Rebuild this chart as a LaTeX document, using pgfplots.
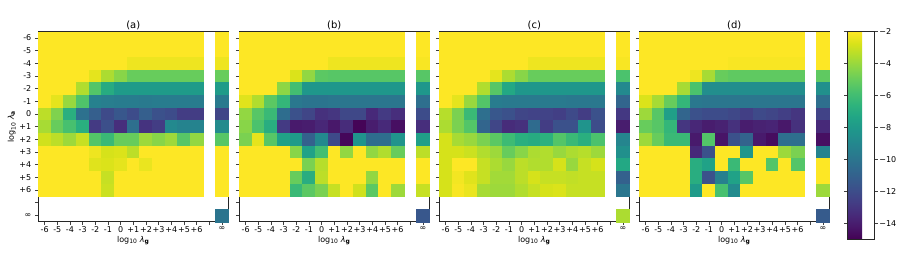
\documentclass[border=0pt]{standalone}
\usepackage{fontspec}
\setmainfont{DejaVu Sans}
\usepackage{pgfplots}
\usepackage{pgfplotstable}
\pgfplotsset{compat=1.18}

% rows: log10 lambda_a = -6 ... +6 ; columns: log10 lambda_g = -6 ... +6, inf
\pgfplotstableread{
c0 c1 c2 c3 c4 c5 c6 c7 c8 c9 c10 c11 c12 cinf
-2 -2 -2 -2 -2 -2 -2 -2 -2 -2 -2 -2 -2 -2
-2 -2 -2 -2 -2 -2 -2 -2 -2 -2 -2 -2 -2 -2
-2 -2 -2 -2 -2 -2 -2 -2.3 -2.3 -2.3 -2.3 -2.3 -2.3 -2.3
-2 -2 -2 -2 -2.5 -3.6 -4.3 -5.0 -5.0 -5.0 -5.0 -5.0 -5.0 -5.0
-2 -2 -2 -3.5 -5.5 -7.0 -7.9 -7.9 -7.9 -7.9 -7.9 -7.9 -7.9 -7.9
-2 -2.5 -4.0 -5.6 -9.3 -9.5 -9.6 -9.6 -9.7 -9.6 -9.6 -9.6 -9.6 -9.7
-3.3 -4.5 -6.8 -10.2 -11.1 -12.1 -11.5 -12.0 -11.1 -11.8 -12.0 -12.7 -12.7 -12.3
-3.7 -5.0 -5.8 -6.8 -12.8 -11.9 -13.3 -10.3 -13.1 -12.7 -8.9 -9.2 -9.2 -8.8
-2.9 -3.3 -3.9 -3.1 -5.5 -6.2 -5.0 -5.0 -3.9 -4.3 -3.9 -5.4 -4.1 -5.4
-2 -2 -2 -2 -2.3 -2.8 -2.7 -3.3 -2 -2 -2 -2 -2 -2
-2 -2 -2 -2 -2.6 -2.7 -2.5 -2 -2.4 -2 -2 -2 -2 -2
-2 -2 -2 -2 -2 -3.1 -2 -2 -2 -2 -2 -2 -2 -2
-2 -2 -2 -2 -2 -3.0 -2 -2 -2 -2 -2 -2 -2 -2
}\tabA

\pgfplotstableread{
c0 c1 c2 c3 c4 c5 c6 c7 c8 c9 c10 c11 c12 cinf
-2 -2 -2 -2 -2 -2 -2 -2 -2 -2 -2 -2 -2 -2
-2 -2 -2 -2 -2 -2 -2 -2 -2 -2 -2 -2 -2 -2
-2 -2 -2 -2 -2 -2 -2 -2.3 -2.3 -2.3 -2.3 -2.3 -2.3 -2.1
-2 -2 -2 -2 -2.7 -4.1 -5.3 -5.4 -5.4 -5.4 -5.4 -5.4 -5.4 -5.4
-2 -2 -2 -4.2 -5.9 -8.1 -8.1 -8.1 -8.1 -8.1 -8.1 -8.1 -8.1 -8.1
-2.6 -3.5 -5.3 -6.4 -9.8 -10.0 -10.0 -9.9 -9.9 -9.9 -9.9 -9.9 -9.9 -10.3
-4.1 -5.4 -6.2 -10.4 -11.8 -12.3 -13.2 -13.0 -12.2 -12.2 -13.5 -12.8 -13.3 -12.0
-4.3 -5.7 -6.9 -12.8 -14.1 -14.0 -13.6 -14.2 -13.4 -14.9 -14.0 -13.5 -14.5 -13.3
-4.6 -2.5 -5.4 -7.6 -7.9 -11.0 -8.9 -12.1 -14.8 -8.3 -10.4 -10.4 -8.3 -7.7
-2 -2 -2 -2 -4.3 -7.5 -5.9 -2 -4.1 -2 -4.1 -3.5 -5.0 -3.3
-2 -2 -2 -2 -2 -4.6 -3.4 -2 -2 -2 -2 -2 -2 -2
-2 -2 -2 -2 -5.0 -6.9 -3.3 -2 -2 -2 -4.1 -2 -2 -2
-2 -2 -2 -2 -6.2 -5.3 -4.6 -3.1 -2 -2.9 -5.3 -2 -3.9 -3.1
}\tabB

\pgfplotstableread{
c0 c1 c2 c3 c4 c5 c6 c7 c8 c9 c10 c11 c12 cinf
-2 -2 -2 -2 -2 -2 -2 -2 -2 -2 -2 -2 -2 -2
-2 -2 -2 -2 -2 -2 -2 -2 -2 -2 -2 -2 -2 -2
-2 -2 -2 -2 -2 -2 -2 -2.3 -2.3 -2.3 -2.3 -2.3 -2.3 -2.1
-2 -2 -2 -2 -2.5 -3.6 -4.3 -5.0 -5.0 -5.0 -5.0 -5.0 -5.0 -5.7
-2 -2 -2 -3.5 -5.4 -7.2 -8.1 -8.1 -8.1 -8.1 -8.1 -8.1 -8.1 -8.9
-2 -2.5 -4.0 -5.5 -9.6 -9.7 -9.7 -9.7 -9.7 -9.7 -9.8 -9.8 -9.8 -10.8
-3.4 -4.6 -6.2 -10.3 -11.5 -11.8 -12.3 -12.4 -12.4 -12.6 -12.1 -12.7 -11.8 -12.9
-3.6 -4.6 -5.5 -10.8 -12.3 -13.4 -13.2 -10.5 -12.7 -11.8 -11.8 -8.3 -12.0 -14.0
-2.8 -3.7 -4.0 -4.6 -5.3 -6.1 -6.8 -7.0 -6.7 -5.5 -6.2 -6.8 -5.7 -9.1
-2.8 -2.8 -3.0 -3.5 -3.9 -5.0 -4.3 -3.6 -3.5 -4.0 -3.6 -3.4 -3.9 -8.5
-2.8 -2.0 -2.0 -3.1 -3.6 -4.0 -3.3 -3.5 -3.5 -2.8 -4.0 -3.1 -2.8 -7.2
-2.8 -2.2 -2.6 -3.1 -3.8 -3.8 -3.3 -2.8 -3.1 -3.1 -3.2 -3.1 -3.1 -11.0
-2.8 -2.1 -2.4 -3.7 -3.9 -3.9 -3.5 -3.1 -2.8 -2.7 -3.1 -3.1 -3.1 -9.9
}\tabC

\pgfplotstableread{
c0 c1 c2 c3 c4 c5 c6 c7 c8 c9 c10 c11 c12 cinf
-2 -2 -2 -2 -2 -2 -2 -2 -2 -2 -2 -2 -2 -2
-2 -2 -2 -2 -2 -2 -2 -2 -2 -2 -2 -2 -2 -2
-2 -2 -2 -2 -2 -2 -2 -2.1 -2.1 -2.1 -2.1 -2.1 -2.1 -2
-2 -2 -2 -2 -2.3 -3.7 -5.0 -5.2 -5.2 -5.2 -5.2 -5.2 -5.2 -5.2
-2 -2 -2 -3.7 -5.7 -8.6 -8.6 -8.6 -8.6 -8.6 -8.6 -8.6 -8.6 -8.5
-2.7 -3.7 -5.0 -6.4 -9.8 -9.9 -9.9 -9.9 -9.9 -9.9 -9.9 -9.9 -9.9 -10.3
-3.9 -5.4 -7.7 -10.8 -11.8 -12.0 -12.0 -12.2 -12.6 -12.1 -12.3 -12.6 -13.0 -12.4
-5.0 -5.4 -6.4 -13.0 -13.6 -14.0 -13.8 -13.2 -14.0 -13.8 -13.7 -14.2 -13.2 -13.5
-3.9 -5.0 -6.2 -6.2 -14.1 -5.5 -14.3 -11.8 -10.9 -14.1 -14.6 -10.3 -10.3 -14.5
-2 -2 -2 -2 -13.5 -11.8 -2 -2 -8.2 -2 -2 -3.9 -4.6 -9.2
-2 -2 -2 -2 -6.9 -7.5 -2 -6.2 -2 -2 -5.5 -2 -5.5 -2
-2 -2 -2 -2 -6.9 -11.8 -9.4 -7.5 -5.4 -2 -2 -2 -2 -2
-2 -2 -2 -2 -7.9 -2 -5.8 -8.8 -2 -2 -2 -2 -2 -3.9
}\tabD

\newcommand\lbl{\fontsize{8}{9.5}\selectfont}

\pgfplotsset{
  hm/.style={
    scale only axis, width=190pt, height=190pt,
    anchor=south west,
    xmin=-0.5, xmax=14.5, ymin=-0.5, ymax=14.5, y dir=reverse,
    xtick={0,...,14}, ytick={0,...,14},
    xticklabels={-6,-5,-4,-3,-2,-1,0,+1,+2,+3,+4,+5,+6,,∞},
    yticklabels=\empty,
    tick align=outside, tick pos=left,
    major tick length=3.5pt,
    tick style={line width=0.6pt, color=black!75},
    axis line style={line width=0.7pt, black!85},
    axis on top,
    colormap name=viridis,
    point meta min=-15, point meta max=-2,
    ticklabel style={font=\lbl},
    xticklabel style={inner sep=1pt},
    title style={font=\fontsize{10}{12}\selectfont, yshift=-8pt},
    xlabel={log\textsubscript{10} \textit{λ}\textsubscript{\textbf{g}}},
    label style={font=\lbl},
    xlabel style={yshift=1pt},
  },
  cell/.style={scatter, only marks, mark=square*, mark size=6.33pt,
    scatter/use mapped color={draw=mapped color, fill=mapped color},
    line width=0.3pt, point meta=explicit},
}

\newcommand\cells[2]{%
  \pgfplotsinvokeforeach{0,...,12}{
    \addplot[cell] table[x expr=##1, y expr=\coordindex, meta=c##1] {#1};
  }
  \addplot[cell] table[x expr=14, y expr=\coordindex, meta=cinf] {#1};
  \addplot[cell] coordinates {(14,14) [#2]};
}

\begin{document}
\begin{tikzpicture}
\useasboundingbox (0,0) rectangle (897pt,252pt);

\begin{axis}[hm, at={(38.3pt,30.3pt)}, title={(a)},
  yticklabels={-6,-5,-4,-3,-2,-1,0,+1,+2,+3,+4,+5,+6,,∞},
  ylabel={log\textsubscript{10} \textit{λ}\textsubscript{\textbf{a}}},
  ylabel style={yshift=-3pt}]
\cells{\tabA}{-10.0}
\end{axis}

\begin{axis}[hm, at={(239.3pt,30.3pt)}, title={(b)}]
\cells{\tabB}{-11.5}
\end{axis}

\begin{axis}[hm, at={(439.3pt,30.3pt)}, title={(c)}]
\cells{\tabC}{-3.6}
\end{axis}

\begin{axis}[hm, at={(639.3pt,30.3pt)}, title={(d)},
  colorbar,
  colorbar style={
    at={(parent axis.north east)}, anchor=north west, xshift=10pt,
    scale only axis, width=26.4pt, height=207.6pt,
    ytick={-14,-12,-10,-8,-6,-4,-2},
    yticklabels={−14,−12,−10,−8,−6,−4,−2},
    yticklabel pos=right,
    ticklabel style={font=\lbl},
    yticklabel style={inner sep=1.5pt},
    tick align=outside, major tick length=3.5pt,
    tick style={line width=0.6pt, color=black!75},
    axis line style={line width=0.7pt, black!85},
  }]
\cells{\tabD}{-11.3}
\end{axis}
\end{tikzpicture}
\end{document}
